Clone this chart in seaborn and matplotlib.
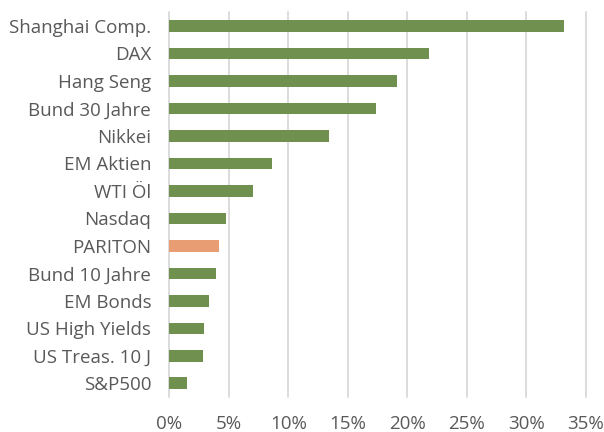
import numpy as np
import pandas as pd
import matplotlib.pyplot as plt
import seaborn as sns
from matplotlib.ticker import PercentFormatter

# Daten
kategorien = ["Shanghai Comp.", "DAX", "Hang Seng", "Bund 30 Jahre", "Nikkei",
              "EM Aktien", "WTI Öl", "Nasdaq", "PARITON", "Bund 10 Jahre",
              "EM Bonds", "US High Yields", "US Treas. 10 J", "S&P500"]
werte = [33.2, 21.8, 19.1, 17.4, 13.4, 8.6, 7.0, 4.8, 4.2, 3.95, 3.3, 2.9, 2.8, 1.5]
farben = ["#70904F" if k != "PARITON" else "#E99D73" for k in kategorien]

df = pd.DataFrame({"kategorie": kategorien, "wert": np.array(werte) / 100})

sns.set_style("white")
plt.rcParams["font.family"] = ["Open Sans", "DejaVu Sans"]

fig = plt.figure(figsize=(6.04, 4.32), dpi=100)
ax = fig.add_axes([0.2803, 0.081, 0.6894, 0.891])

sns.barplot(data=df, x="wert", y="kategorie", hue="kategorie", palette=farben,
            orient="h", width=0.42, dodge=False, saturation=1, legend=False,
            linewidth=0, ax=ax, zorder=3)

ax.set_xlim(0, 0.35)
ax.set_ylim(13.5, -0.5)
ax.set_xticks(np.arange(0, 0.351, 0.05))
ax.xaxis.set_major_formatter(PercentFormatter(1.0, decimals=0))
ax.grid(axis="x", color="#D9D9D9", linewidth=1.3, zorder=0)
for linie in ax.get_xgridlines():
    linie.set_clip_on(False)
ax.set_xlabel("")
ax.set_ylabel("")
for s in ax.spines.values():
    s.set_visible(False)
ax.tick_params(axis="both", length=0, labelsize=13.5, labelcolor="#595959")
ax.tick_params(axis="y", pad=13)
ax.tick_params(axis="x", pad=13)

fig.savefig("out.png", dpi=100)
